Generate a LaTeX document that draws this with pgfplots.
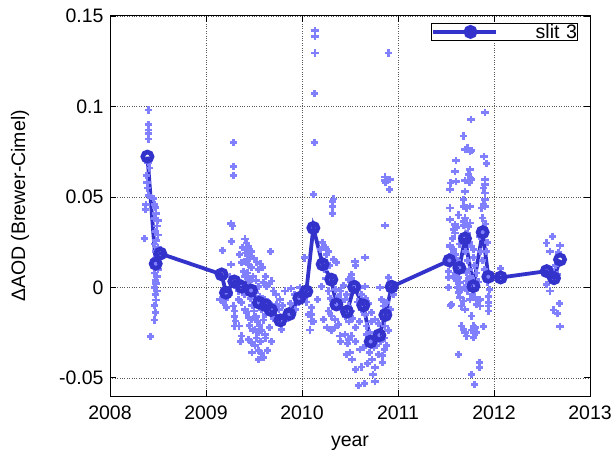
\documentclass[border=0pt]{standalone}
\usepackage{fontspec}
\setmainfont{Liberation Sans}
\usepackage{pgfplots}
\pgfplotsset{compat=1.18}

\definecolor{slitblue}{RGB}{51,51,204}
\definecolor{ptblue}{RGB}{128,128,255}

\begin{document}
\begin{tikzpicture}
\begin{axis}[
  name=ax,
  scale only axis,
  width=480pt, height=380pt,
  xmin=2008, xmax=2013,
  ymin=-0.06, ymax=0.15,
  xtick={2008,2009,2010,2011,2012,2013},
  xticklabels={2008,2009,2010,2011,2012,2013},
  ytick={-0.05,0,0.05,0.1,0.15},
  yticklabels={-0.05,0,0.05,0.1,0.15},
  tick pos=both, tick align=inside,
  major tick length=6pt,
  every tick/.style={black, line width=0.9pt},
  axis line style={line width=1pt},
  grid=major,
  major grid style={dotted, line width=0.8pt, black!65},
  ticklabel style={font=\fontsize{19.5}{22}\selectfont},
  xticklabel style={yshift=-6pt},
  yticklabel style={xshift=-3pt},
  every axis x label/.style={at={(axis description cs:0.5,-0.124)},
    anchor=center, font=\fontsize{19.5}{22}\selectfont},
  every axis y label/.style={at={(axis description cs:-0.1875,0.5)},
    rotate=90, anchor=center, font=\fontsize{19.5}{22}\selectfont},
  xlabel={year},
  ylabel={ΔAOD (Brewer-Cimel)},
  legend style={at={(0.9756,0.9824)}, anchor=north east, draw=black,
    line width=0.8pt, inner sep=0.5pt,
    font=\fontsize{19.5}{20}\selectfont,
    nodes={inner sep=0.5pt, text width=78pt, align=right}},
  legend image code/.code={%
    \path (-11pt,0pt) -- (0pt,0pt);
    \draw[#1, mark repeat=2, mark phase=2]
      plot coordinates {(0pt,0pt) (26pt,0pt) (52pt,0pt)};},
]

% individual Brewer-Cimel differences
\addplot[only marks, mark=+, mark size=3.6pt, color=ptblue,
  mark options={solid, line width=2.8pt}, forget plot] table {
x y
2008.40 0.098
2008.40 0.090
2008.40 0.087
2008.40 0.085
2008.40 0.082
2008.395 0.069
2008.41 0.066
2008.38 0.062
2008.385 0.058
2008.39 0.055
2008.40 0.051
2008.375 0.046
2008.37 0.043
2008.36 0.027
2008.45 0.049
2008.46 0.046
2008.47 0.044
2008.48 0.041
2008.46 0.038
2008.50 0.037
2008.49 0.034
2008.47 0.031
2008.50 0.029
2008.48 0.026
2008.46 0.024
2008.50 0.022
2008.47 0.020
2008.49 0.017
2008.45 0.015
2008.48 0.012
2008.50 0.010
2008.46 0.008
2008.49 0.006
2008.47 0.004
2008.48 0.002
2008.46 0.000
2008.49 -0.002
2008.47 -0.004
2008.48 -0.007
2008.46 -0.010
2008.47 -0.014
2008.46 -0.018
2008.42 -0.027
2009.285 0.080
2009.285 0.067
2009.285 0.062
2009.26 0.0353
2009.275 0.034
2009.268 0.0255
2009.17 0.0206
2009.407 0.0268
2009.424 0.0246
2009.441 0.0228
2009.434 0.020
2009.414 0.019
2009.459 0.017
2009.674 0.020
2009.26 0.0127
2009.372 0.0136
2009.40 0.0145
2009.44 0.0127
2009.476 0.0109
2009.546 0.010
2009.587 0.0109
2009.684 0.0035
2009.146 -0.0066
2009.198 -0.0066
2009.18 -0.0084
2009.216 -0.011
2009.285 -0.0103
2009.296 -0.013
2009.30 -0.016
2009.31 -0.0186
2009.337 -0.0066
2009.372 -0.0084
2009.407 -0.012
2009.424 -0.014
2009.441 -0.0167
2009.476 -0.0176
2009.30 -0.0213
2009.344 -0.0213
2009.372 -0.0268
2009.441 -0.0286
2009.476 -0.0305
2009.51 -0.0323
2009.546 -0.035
2009.58 -0.0364
2009.598 -0.0387
2009.51 -0.0231
2009.546 -0.025
2009.58 -0.024
2009.615 -0.0259
2009.684 -0.0301
2009.823 -0.002
2009.886 -0.0007
2009.771 -0.0066
2009.736 -0.0094
2009.823 -0.0186
2009.79 -0.0231
2010.03 0.0163
2009.563 -0.0048
2009.615 -0.0066
2009.65 -0.0084
2009.684 -0.0103
2009.476 -0.0011
2009.51 -0.003
2009.546 0.0007
2009.598 0.0026
2009.632 0.0007
2009.407 0.0062
2009.441 0.0044
2009.365 0.0026
2009.39 0.009
2009.43 0.008
2009.45 0.003
2009.49 0.006
2009.52 0.004
2009.42 -0.002
2009.46 -0.006
2009.48 -0.010
2009.50 -0.013
2009.52 -0.016
2009.54 -0.019
2009.56 -0.021
2009.60 -0.018
2009.62 -0.015
2009.58 -0.012
2009.53 -0.009
2009.45 -0.021
2009.49 -0.024
2009.53 -0.028
2009.57 -0.030
2009.62 -0.028
2009.66 -0.022
2009.70 -0.017
2009.40 -0.004
2009.34 -0.002
2009.32 0.000
2009.24 -0.004
2009.25 0.006
2009.50 0.016
2009.53 0.014
2009.57 0.013
2009.62 0.006
2009.66 0.002
2009.70 -0.002
2009.73 -0.004
2009.76 -0.012
2009.80 -0.010
2009.84 -0.015
2009.88 -0.009
2009.92 -0.004
2009.93 -0.012
2009.96 -0.008
2009.98 0.000
2009.64 -0.035
2009.55 -0.040
2009.48 -0.036
2009.36 -0.030
2009.43 0.015
2009.47 0.020
2009.38 0.022
2009.35 0.018
2010.135 0.142
2010.135 0.1385
2010.135 0.1296
2010.13 0.107
2010.13 0.080
2010.118 0.0512
2010.326 0.0489
2010.319 0.0476
2010.319 0.0448
2010.319 0.0408
2010.90 0.1296
2010.865 0.061
2010.865 0.059
2010.87 0.058
2010.917 0.0595
2010.91 0.054
2010.865 0.0342
2010.212 0.0250
2010.246 0.0219
2010.274 0.020
2010.257 0.0182
2010.031 0.0164
2010.326 0.0154
2010.361 0.0136
2010.552 0.0145
2010.559 0.0121
2010.656 0.0167
2010.517 0.0072
2010.483 0.0044
2010.535 0.0035
2010.57 0.0017
2010.604 -0.0002
2010.656 0.0007
2010.812 -0.0002
2010.90 0.0053
2010.205 0.0004
2010.163 -0.0066
2010.10 -0.011
2010.10 -0.0149
2010.10 -0.0186
2010.083 -0.0235
2010.222 -0.0176
2010.274 -0.0130
2010.309 -0.0158
2010.344 -0.0176
2010.378 -0.0204
2010.309 -0.024
2010.344 -0.0222
2010.396 -0.0268
2010.448 -0.0259
2010.483 -0.0286
2010.517 -0.0268
2010.465 -0.0369
2010.50 -0.0360
2010.448 -0.0066
2010.483 -0.0103
2010.517 -0.013
2010.604 -0.0341
2010.64 -0.0332
2010.559 -0.0452
2010.76 -0.0442
2010.837 -0.0415
2010.795 -0.0369
2010.837 -0.0378
2010.857 -0.0341
2010.674 -0.0213
2010.708 -0.025
2010.743 -0.0286
2010.691 -0.0305
2010.778 -0.0323
2010.795 -0.0286
2010.726 -0.0140
2010.76 -0.0176
2010.656 -0.0149
2010.83 -0.0066
2010.847 -0.0103
2010.882 -0.0084
2010.865 -0.0213
2010.90 -0.024
2010.587 -0.0543
2010.655 -0.0532
2010.76 -0.0522
2010.40 -0.002
2010.43 0.001
2010.46 -0.004
2010.41 -0.008
2010.38 -0.005
2010.35 -0.001
2010.30 -0.006
2010.28 -0.002
2010.25 0.005
2010.23 0.010
2010.19 0.021
2010.29 0.012
2010.42 -0.012
2010.45 -0.016
2010.49 -0.019
2010.53 -0.017
2010.56 -0.022
2010.60 -0.019
2010.62 -0.012
2010.58 -0.008
2010.62 -0.004
2010.66 -0.006
2010.69 -0.009
2010.72 -0.019
2010.70 -0.036
2010.73 -0.040
2010.68 -0.042
2010.75 -0.033
2010.78 -0.026
2010.80 -0.020
2010.82 -0.030
2010.86 -0.028
2010.88 -0.032
2010.92 -0.012
2010.95 -0.004
2010.40 -0.030
2010.37 -0.010
2010.33 -0.010
2010.26 -0.022
2010.05 -0.008
2010.07 -0.015
2010.12 -0.019
2010.62 -0.044
2010.52 -0.040
2010.47 -0.031
2010.56 -0.030
2010.67 -0.026
2010.74 -0.048
2011.906 0.0968
2011.76 0.0929
2011.68 0.0837
2011.698 0.0764
2011.722 0.0770
2011.75 0.0751
2011.767 0.0757
2011.604 0.0702
2011.896 0.0724
2011.923 0.0687
2011.594 0.0641
2011.75 0.065
2011.733 0.0623
2011.757 0.0604
2011.743 0.058
2011.698 0.0591
2011.767 0.0595
2011.548 0.0577
2011.604 0.0586
2011.541 0.0540
2011.906 0.0595
2011.906 0.0568
2011.889 0.055
2011.906 0.0522
2011.698 0.0531
2011.68 0.0485
2011.541 0.0439
2011.68 0.0448
2011.715 0.0439
2011.75 0.0448
2011.906 0.0485
2011.889 0.0458
2011.871 0.0439
2011.906 0.0448
2011.541 0.0375
2011.882 0.0384
2011.698 0.0384
2011.68 0.0366
2011.715 0.0356
2011.75 0.0356
2011.733 0.0338
2011.68 0.0342
2011.594 0.0347
2011.576 0.032
2011.611 0.0329
2011.594 0.0301
2011.541 0.0232
2011.767 0.0228
2011.541 0.0228
2011.576 0.021
2011.559 0.0182
2011.524 0.0154
2011.541 0.0127
2011.524 0.0090
2011.576 0.0063
2011.524 0.0054
2011.611 0.0081
2011.628 0.0054
2011.611 0.0035
2011.646 0.0026
2011.663 -0.0011
2011.628 -0.0029
2011.646 -0.0057
2011.68 -0.0075
2011.663 -0.0103
2011.698 -0.0121
2011.524 0.0001
2011.559 -0.0094
2011.549 -0.0099
2011.785 0.021
2011.785 0.0164
2011.715 0.0081
2011.75 0.0063
2011.715 0.0035
2011.75 -0.0066
2011.802 -0.0057
2011.837 -0.0075
2011.854 -0.0066
2011.82 -0.0094
2011.854 -0.0103
2011.941 -0.0048
2011.941 -0.0084
2011.941 -0.0103
2011.941 -0.013
2011.951 -0.0011
2011.767 -0.0158
2011.663 -0.0213
2011.68 -0.0231
2011.698 -0.025
2011.785 -0.0213
2011.802 -0.0222
2011.889 -0.0217
2011.767 -0.0235
2011.82 -0.0250
2011.715 -0.0268
2011.785 -0.0277
2011.628 -0.0369
2011.847 -0.0415
2011.847 -0.0443
2011.767 -0.048
2011.80 -0.0537
2011.60 0.018
2011.62 0.015
2011.65 0.012
2011.70 0.020
2011.72 0.015
2011.74 0.010
2011.76 0.005
2011.80 0.012
2011.82 0.008
2011.84 0.003
2011.86 0.020
2011.88 0.015
2011.90 0.010
2011.92 0.020
2011.93 0.025
2011.90 0.030
2011.91 0.035
2011.93 0.003
2011.95 0.006
2011.64 0.024
2011.66 0.028
2011.72 0.030
2011.74 0.025
2011.63 0.040
2011.57 0.027
2011.85 0.028
2011.87 0.032
2011.80 0.002
2011.78 -0.004
2011.72 -0.002
2011.69 0.000
2011.62 0.000
2012.07 0.0103
2012.611 0.0283
2012.549 0.0246
2012.583 0.020
2012.687 0.0231
2012.67 0.0191
2012.549 0.0017
2012.583 -0.002
2012.68 -0.0088
2012.617 -0.0125
2012.66 -0.0143
2012.687 -0.0215
2012.60 0.010
2012.64 0.012
2012.66 0.007
};

% monthly means, slit 3
\addplot[color=slitblue, line width=3.8pt, mark=o, mark size=4.6pt,
  mark options={line width=4.6pt, fill=white!70!slitblue}] table {
x y
2008.390 0.0723
2008.476 0.0131
2008.524 0.0187
2009.163 0.0072
2009.208 -0.0029
2009.295 0.0033
2009.372 0.0004
2009.469 -0.0017
2009.552 -0.0084
2009.622 -0.0099
2009.677 -0.0125
2009.774 -0.0182
2009.868 -0.0147
2009.972 -0.0059
2010.045 -0.0022
2010.118 0.0329
2010.215 0.0128
2010.306 0.0043
2010.358 -0.0094
2010.469 -0.0134
2010.543 0.0003
2010.639 -0.0099
2010.715 -0.0299
2010.806 -0.0264
2010.868 -0.0152
2010.934 0.0004
2011.535 0.0149
2011.639 0.0108
2011.698 0.0270
2011.785 0.0007
2011.882 0.0305
2011.941 0.0059
2012.070 0.0055
2012.549 0.0090
2012.625 0.0051
2012.688 0.0154
};
\addlegendentry{slit 3}
\end{axis}
\pgfresetboundingbox
\path ([shift={(-110pt,-59pt)}]ax.south west) rectangle ([shift={(24pt,16pt)}]ax.north east);
\end{tikzpicture}
\end{document}
